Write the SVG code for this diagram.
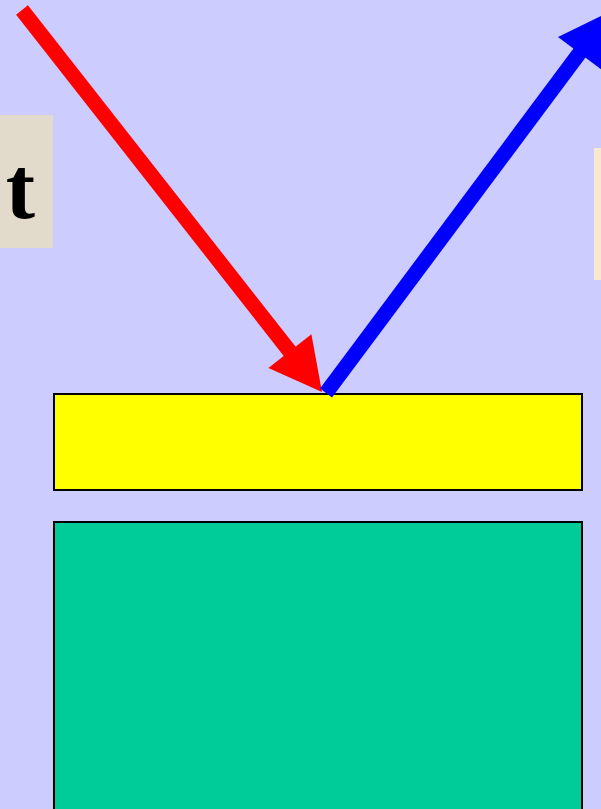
<svg xmlns="http://www.w3.org/2000/svg" width="601" height="809" viewBox="0 0 601 809">
<style>
.lbl{font-family:"Liberation Serif","Times New Roman",serif;font-weight:bold;fill:#000}
.box{stroke:#000;stroke-width:2}
</style>
<rect width="601" height="809" fill="#CCCCFF"/>
<g id="label-left">
<rect x="0" y="115" width="53" height="133" fill="#E2DACB"/>
<text class="lbl" x="35" y="218" font-size="88" text-anchor="end">t</text>
</g>
<g id="label-right">
<rect x="594" y="148" width="10" height="132" fill="#F5E9CF"/>
</g>
<g id="coating">
<rect class="box" x="54" y="394" width="528" height="96" fill="#FFFF00"/>
</g>
<g id="substrate">
<rect class="box" x="54" y="522" width="528" height="300" fill="#00CC99"/>
</g>
<g id="connectors">
<line x1="22" y1="10" x2="291" y2="353" stroke="#FF0000" stroke-width="15"/>
<polygon points="322,392 311.4,334.2 268.4,368" fill="#FF0000"/>
<line x1="326" y1="393" x2="581" y2="51" stroke="#0000FF" stroke-width="15"/>
<polygon points="611,11 558,37 602,70" fill="#0000FF"/>
</g>
</svg>
